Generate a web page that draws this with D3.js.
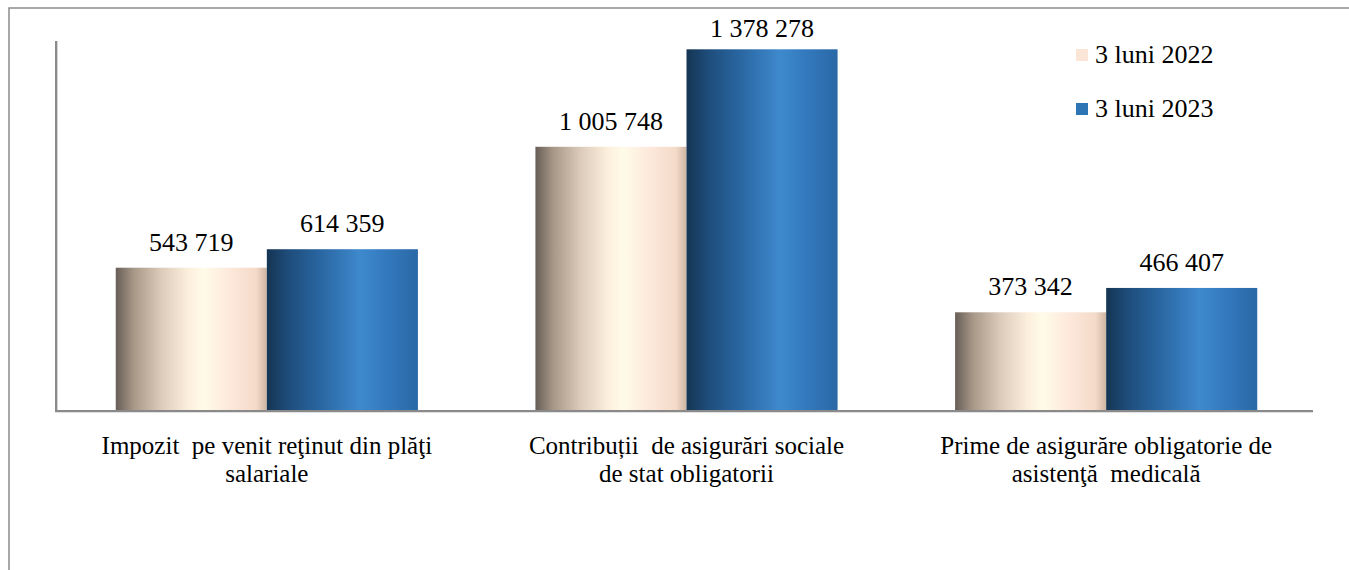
<!DOCTYPE html>
<html lang="ro">
<head>
    <meta charset="UTF-8">
    <title>Impozite si contributii</title>
    <style>
        body { margin: 0; background: #fff; }
    </style>
</head>
<body>
    <div id="chart"></div>

    <script src="https://d3js.org/d3.v7.min.js"></script>
    <script>
        // chart data
        const categories = [
            ["Impozit  pe venit reţinut din plăţi", "salariale"],
            ["Contribuții  de asigurări sociale", "de stat obligatorii"],
            ["Prime de asigurăre obligatorie de", "asistenţă  medicală"]
        ];
        const seriesNames = ["3 luni 2022", "3 luni 2023"];
        const values2022 = [543719, 1005748, 373342];
        const values2023 = [614359, 1378278, 466407];

        const W = 1349, H = 570;
        const x0 = 57, x1 = 1316, yBase = 410, yTop = 41;
        const serif = "Times New Roman, Liberation Serif, Tinos, DejaVu Serif, Noto Serif, FreeSerif, serif";

        const svg = d3.select("#chart").append("svg")
            .attr("width", W).attr("height", H);

        // gradients for the cylinder-ish bars
        const defs = svg.append("defs");
        const grads = {
            cream: [[0, "#675e57"], [0.12, "#a89888"], [0.3, "#dccbbb"], [0.48, "#fcefdc"], [0.58, "#fffbe9"], [0.75, "#fde9dc"], [0.93, "#f4dac8"], [1, "#cdb5a3"]],
            blue: [[0, "#153553"], [0.14, "#1e4c7a"], [0.35, "#2966a1"], [0.62, "#3e89cd"], [0.8, "#3279bc"], [1, "#2a68a6"]]
        };
        Object.entries(grads).forEach(([id, stops]) => {
            const g = defs.append("linearGradient").attr("id", "g-" + id)
                .attr("x1", "0%").attr("x2", "100%").attr("y1", "0%").attr("y2", "0%");
            stops.forEach(s => g.append("stop").attr("offset", s[0]).attr("stop-color", s[1]));
        });
        const fills = ["url(#g-cream)", "url(#g-blue)"];
        const legendColors = ["#fbe5d6", "#2e75b6"];

        // outer frame (runs past the bottom/right edges)
        svg.append("rect")
            .attr("x", 9).attr("y", 8).attr("width", 1400).attr("height", 600)
            .attr("fill", "none").attr("stroke", "#8c8c8c").attr("stroke-width", 1.5);

        const x = d3.scaleBand()
            .domain(d3.range(categories.length))
            .range([x0, x1])
            .paddingInner(0.28).paddingOuter(0.14);

        const xs = d3.scaleBand()
            .domain(d3.range(seriesNames.length))
            .range([0, x.bandwidth()]);

        const y = d3.scaleLinear().domain([0, 1410000]).range([yBase, yTop]);

        const data = categories.map((c, i) => ({ i, vals: [values2022[i], values2023[i]] }));

        const groups = svg.selectAll(".grp")
            .data(data)
            .enter().append("g")
            .attr("class", "grp")
            .attr("transform", d => `translate(${x(d.i)},0)`);

        groups.selectAll("rect")
            .data(d => d.vals.map((v, s) => ({ v, s })))
            .enter().append("rect")
            .attr("x", d => xs(d.s))
            .attr("y", d => y(d.v))
            .attr("width", xs.bandwidth())
            .attr("height", d => yBase - y(d.v))
            .attr("fill", d => fills[d.s]);

        // value labels
        const fmt = v => d3.format(",")(v).replace(/,/g, " ");
        groups.selectAll(".val")
            .data(d => d.vals.map((v, s) => ({ v, s })))
            .enter().append("text")
            .attr("class", "val")
            .attr("x", d => xs(d.s) + xs.bandwidth() / 2)
            .attr("y", d => Math.max(37, y(d.v) - 17))
            .attr("text-anchor", "middle")
            .attr("font-family", serif)
            .attr("font-size", 26)
            .text(d => fmt(d.v));

        // axes lines
        svg.append("line")
            .attr("x1", 57).attr("x2", 57).attr("y1", yTop).attr("y2", yBase + 1)
            .attr("stroke", "#d6d6d6").attr("stroke-width", 2);
        svg.append("line")
            .attr("x1", 56).attr("x2", 56).attr("y1", yTop).attr("y2", yBase + 1)
            .attr("stroke", "#8a8a8a").attr("stroke-width", 2);
        svg.append("line")
            .attr("x1", 55).attr("x2", 1313).attr("y1", yBase + 2).attr("y2", yBase + 2)
            .attr("stroke", "#d6d6d6").attr("stroke-width", 1.5);
        svg.append("line")
            .attr("x1", 55).attr("x2", 1313).attr("y1", yBase + 1).attr("y2", yBase + 1)
            .attr("stroke", "#8a8a8a").attr("stroke-width", 2);

        // category labels, two lines each
        const catG = svg.selectAll(".cat")
            .data(categories)
            .enter().append("g")
            .attr("class", "cat")
            .attr("transform", (d, i) => `translate(${x(i) + x.bandwidth() / 2},0)`);
        catG.selectAll("text")
            .data(d => d)
            .enter().append("text")
            .attr("x", 0)
            .attr("y", (d, j) => 454 + j * 28)
            .attr("text-anchor", "middle")
            .attr("font-family", serif)
            .attr("font-size", 25)
            .style("white-space", "pre")
            .text(d => d);

        // legend
        const legend = svg.append("g").attr("transform", "translate(1076,49)");
        const items = legend.selectAll(".li")
            .data(seriesNames)
            .enter().append("g")
            .attr("transform", (d, i) => `translate(0,${i * 54})`);
        items.append("rect")
            .attr("width", 12).attr("height", 12)
            .attr("fill", (d, i) => legendColors[i]);
        items.append("text")
            .attr("x", 19).attr("y", 14)
            .attr("font-family", serif)
            .attr("font-size", 26)
            .text(d => d);
    </script>
</body>
</html>
